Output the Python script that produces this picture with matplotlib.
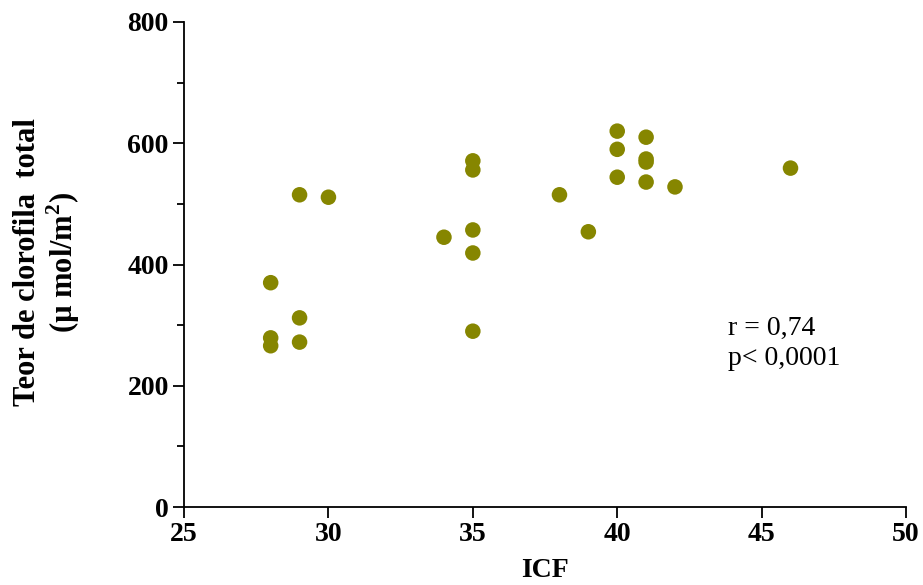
import numpy as np
import matplotlib
matplotlib.use('Agg')
import matplotlib.pyplot as plt
from matplotlib.ticker import MultipleLocator

plt.rcParams['font.family'] = ['Liberation Serif', 'DejaVu Serif']
plt.rcParams['mathtext.fontset'] = 'custom'
plt.rcParams['mathtext.rm'] = 'Liberation Serif:bold'
plt.rcParams['mathtext.bf'] = 'Liberation Serif:bold'

# ICF vs teor de clorofila total
icf = [28, 28, 28, 29, 29, 29, 30, 34, 35, 35, 35, 35, 35,
       38, 39, 40, 40, 40, 41, 41, 41, 41, 42, 46]
clorofila = [370, 279, 266, 515, 312, 272, 511, 445, 571, 556, 457, 419, 290,
             515, 454, 620, 590, 544, 610, 574, 569, 536, 528, 559]

cor_ponto = '#868600'

fig = plt.figure(figsize=(9.23, 5.85), dpi=100)
ax = fig.add_axes([0.1994, 0.1333, 0.7822, 0.8291])

ax.scatter(icf, clorofila, s=125, color=cor_ponto, edgecolors='none', zorder=3, clip_on=False)

ax.set_xlim(25, 50)
ax.set_ylim(0, 800)
ax.xaxis.set_major_locator(MultipleLocator(5))
ax.yaxis.set_major_locator(MultipleLocator(200))
ax.yaxis.set_minor_locator(MultipleLocator(100))

for s in ['top', 'right']:
    ax.spines[s].set_visible(False)
for s in ['left', 'bottom']:
    ax.spines[s].set_linewidth(1.3)

ax.tick_params(axis='both', which='major', length=8, width=1.3, labelsize=20, pad=3)
ax.tick_params(axis='y', which='minor', length=5, width=1.3)
for lab in ax.get_xticklabels() + ax.get_yticklabels():
    lab.set_fontweight('bold')

ax.set_xlabel('ICF', fontsize=20, fontweight='bold', labelpad=8)
ax.set_ylabel('Teor de clorofila  total\n(µ mol/m$^{2}$)', fontsize=22,
              fontweight='bold', linespacing=1.05)
ax.yaxis.set_label_coords(-0.142, 0.505)

ax.text(43.84, 270, 'r = 0,74\np< 0,0001',
        fontsize=20, va='center', ha='left', linespacing=1.3)

plt.savefig('out.png', dpi=100)
